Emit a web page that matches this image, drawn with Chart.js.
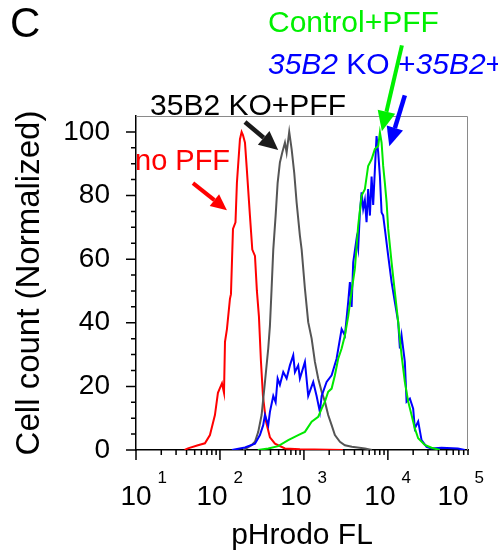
<!DOCTYPE html>
<html>
<head>
<meta charset="utf-8">
<script src="https://cdn.jsdelivr.net/npm/chart.js@4"></script>
<style>
  html, body { margin: 0; padding: 0; background: #fff; }
  #wrap { width: 498px; height: 560px; position: relative; }
</style>
</head>
<body>
<div id="wrap"><canvas id="Chart-canvas" width="498" height="560"></canvas></div>
<script>
const FONT = "'Liberation Sans', Arial, sans-serif";

// histogram values (FL value, normalized count)
const noPffFL = [38, 41.6, 54.7, 66.2, 76.0, 87.1, 94.6, 105.7, 111.7, 114.8, 121.1, 131.5, 135.2, 142.9, 153.1, 159.2, 173.0, 181.1, 187.9, 198.6, 208.0, 227.5, 242.7, 261.2, 275.4, 291.1, 307.6, 325.1, 353.2, 393.6, 451.9, 594.3, 895.4, 2911];
const noPffCount = [0, 0.5, 1.5, 2.1, 4.7, 11, 18, 21, 18, 34, 38, 47.5, 49, 69.5, 71.6, 84, 97.7, 100, 99, 96.6, 89, 73.7, 63, 61, 50, 42, 28, 17, 9, 4, 2, 0.5, 0.2, 0];

const koPffFL = [190, 238.2, 261.2, 285.8, 313.3, 343.6, 375.8, 393.6, 412.1, 431.5, 460.3, 486.4, 517.6, 552.1, 594.3, 622.3, 668.3, 714.5, 767.4, 818.5, 895.4, 939.7, 1028, 1125, 1236, 1352, 1479, 1626, 1778, 1945, 2138, 2339, 2685, 3076, 3724, 5321, 6457];
const koPffCount = [0, 1.5, 2.6, 5.7, 11, 21.4, 31.9, 39, 50.7, 63, 73.7, 84, 90.4, 93.5, 96.6, 93.5, 100, 94.5, 87, 77.8, 67.4, 63, 50.7, 40.2, 35, 27.7, 22.5, 18.3, 15.2, 11, 7.8, 4.7, 2.6, 1.5, 1, 0.5, 0];

const rescueFL = [139, 198.6, 261.2, 299.2, 327.4, 343.6, 375.8, 393.6, 431.5, 460.3, 486.4, 517.6, 567.5, 622.3, 680.8, 746.4, 781.6, 855.1, 895.4, 1028, 1125, 1291, 1416, 1549, 1626, 1862, 2138, 2449, 2812, 3076, 3367, 3528, 3698, 3864, 4238, 4426, 4641, 4865, 5082, 5321, 5571, 5821, 6109, 6397, 6683, 6998, 7328, 7674, 8035, 8414, 8790, 9204, 10090, 11070, 12110, 13270, 13900, 14550, 15920, 16700, 18280, 20010, 20940, 22950, 25180, 28910, 33110, 43550, 68080, 82600];
const rescueCount = [0, 0.8, 2, 4.7, 7.8, 11, 7.8, 12, 17, 15, 22.5, 20.5, 24.5, 22.5, 26.6, 29.8, 24.5, 26.6, 22.5, 27.7, 17, 21.4, 17, 12, 17, 21.4, 23.5, 28.7, 38, 36, 46.5, 52.8, 45, 59, 66.4, 63.3, 74.7, 81, 75.8, 78.5, 71.6, 82, 73.7, 86, 77, 88, 98.7, 93.5, 86, 74.7, 73.7, 69.5, 61, 52.8, 46.5, 40.2, 31.9, 36, 27.7, 15.2, 16.2, 13, 6.8, 9, 3.1, 1, 0.5, 0.7, 0.5, 0];

const controlFL = [283.1, 375.8, 494.3, 650.1, 855.1, 1028, 1236, 1479, 1626, 1778, 1945, 2138, 2339, 2559, 2812, 3076, 3367, 3698, 4046, 4426, 4865, 5321, 5821, 6397, 6998, 7674, 8035, 8414, 8790, 9204, 9660, 10090, 11070, 12110, 13270, 14550, 15920, 17460, 19140, 20940, 22950, 27540, 33110, 41590];
const controlCount = [0, 0.5, 1.2, 3.1, 4.7, 5.7, 8.9, 10.4, 13, 15.2, 18.3, 19.3, 23.5, 28.7, 31.9, 36, 42, 50, 57, 70.5, 80, 82, 89.3, 91.4, 94.6, 95.6, 99.8, 96.6, 89.3, 84, 77.8, 69.5, 59, 49.6, 40.2, 29.8, 21.4, 15.2, 11, 6.8, 3.7, 1.6, 0.7, 0];

const xMajor = [10, 100, 1000, 10000, 100000];
const xMinor = [20, 30, 40, 50, 60, 70, 80, 90, 200, 300, 400, 500, 600, 700, 800, 900,
                2000, 3000, 4000, 5000, 6000, 7000, 8000, 9000, 20000, 30000, 40000, 50000, 60000, 70000, 80000, 90000];
const yMajor = [0, 20, 40, 60, 80, 100];
const yMinor = [5, 10, 15, 25, 30, 35, 45, 50, 55, 65, 70, 75, 85, 90, 95];

const RED = '#ff0000', GRAY = '#555555', BLUE = '#0000ff', GREEN = '#00e800';

function pts(xs, ys) {
  return xs.map((x, i) => ({ x: x, y: ys[i] }));
}

function arrow(ctx, x1, y1, x2, y2, color, w, head, hw) {
  const a = Math.atan2(y2 - y1, x2 - x1);
  const bx = x2 - head * Math.cos(a), by = y2 - head * Math.sin(a);
  ctx.strokeStyle = color;
  ctx.lineWidth = w;
  ctx.beginPath();
  ctx.moveTo(x1, y1);
  ctx.lineTo(bx, by);
  ctx.stroke();
  ctx.fillStyle = color;
  ctx.beginPath();
  ctx.moveTo(x2, y2);
  ctx.lineTo(bx + hw / 2 * Math.sin(a), by - hw / 2 * Math.cos(a));
  ctx.lineTo(bx - hw / 2 * Math.sin(a), by + hw / 2 * Math.cos(a));
  ctx.closePath();
  ctx.fill();
}

// draws ticks, frame, power-of-ten labels and the annotations
const extras = {
  id: 'extras',
  afterDraw(chart) {
    const ctx = chart.ctx, xs = chart.scales.x, ys = chart.scales.y, area = chart.chartArea;
    const X = v => xs.getPixelForValue(v), Y = v => ys.getPixelForValue(v);
    ctx.save();

    // frame top/right
    ctx.strokeStyle = '#8a8a8a';
    ctx.lineWidth = 1;
    ctx.beginPath();
    ctx.moveTo(area.left, area.top + 0.5);
    ctx.lineTo(area.right - 0.5, area.top + 0.5);
    ctx.lineTo(area.right - 0.5, area.bottom);
    ctx.stroke();

    // tick marks
    ctx.strokeStyle = '#000';
    ctx.lineWidth = 1.5;
    ctx.beginPath();
    yMajor.forEach(v => { ctx.moveTo(area.left - 10, Y(v)); ctx.lineTo(area.left, Y(v)); });
    yMinor.forEach(v => { ctx.moveTo(area.left - 5, Y(v)); ctx.lineTo(area.left, Y(v)); });
    xMajor.forEach(v => { if (v <= xs.max) { ctx.moveTo(X(v), area.bottom); ctx.lineTo(X(v), area.bottom + 10); } });
    xMinor.forEach(v => { ctx.moveTo(X(v), area.bottom); ctx.lineTo(X(v), area.bottom + 5); });
    ctx.stroke();

    // x tick labels 10^n
    ctx.fillStyle = '#000';
    ctx.textBaseline = 'alphabetic';
    xMajor.forEach(v => {
      const exp = Math.round(Math.log10(v));
      const cx = Math.min(Math.max(X(v) - 8, area.left), area.right - 15);
      ctx.font = '28px ' + FONT;
      ctx.textAlign = 'center';
      ctx.fillText('10', cx, 505);
      const wd = ctx.measureText('10').width;
      ctx.font = '17px ' + FONT;
      ctx.textAlign = 'left';
      ctx.fillText(String(exp), cx + wd / 2 + 6, 483);
    });

    // panel letter
    ctx.font = '42px ' + FONT;
    ctx.fillStyle = '#000';
    ctx.textAlign = 'left';
    ctx.fillText('C', 10, 37);

    // annotations
    ctx.font = '29px ' + FONT;
    ctx.fillStyle = RED;
    ctx.fillText('no PFF', X(9.73), Y(88));
    ctx.font = '30px ' + FONT;
    ctx.fillStyle = '#000';
    ctx.fillText('35B2 KO+PFF', X(14.7), Y(105.2));
    ctx.fillStyle = '#00f000';
    ctx.fillText('Control+PFF', X(373), Y(131.3));

    ctx.fillStyle = BLUE;
    let tx = X(373);
    const ty = Y(118.1);
    [['35B2', true], [' KO +', false], ['35B2', true], ['+PFF', false]].forEach(p => {
      ctx.font = (p[1] ? 'italic ' : '') + '30px ' + FONT;
      ctx.fillText(p[0], tx, ty);
      tx += ctx.measureText(p[0]).width;
    });

    arrow(ctx, X(47.7), Y(83.9), X(121), Y(75.4), RED, 4, 16, 15);
    arrow(ctx, X(198.6), Y(103.1), X(494), Y(94.3), '#1a1a1a', 4.5, 19, 18);
    arrow(ctx, X(14690), Y(127.2), X(8490), Y(100.2), '#00f000', 4, 20, 18);
    arrow(ctx, X(15920), Y(111.5), X(10400), Y(95.5), BLUE, 4.5, 19, 17);

    ctx.restore();
  }
};

new Chart(document.getElementById('Chart-canvas'), {
  type: 'line',
  data: {
    datasets: [
      { label: 'Control+PFF', data: pts(controlFL, controlCount), borderColor: GREEN },
      { label: '35B2 KO+35B2+PFF', data: pts(rescueFL, rescueCount), borderColor: BLUE },
      { label: '35B2 KO+PFF', data: pts(koPffFL, koPffCount), borderColor: GRAY },
      { label: 'no PFF', data: pts(noPffFL, noPffCount), borderColor: RED }
    ]
  },
  options: {
    responsive: false,
    animation: false,
    elements: {
      point: { radius: 0 },
      line: { borderWidth: 2, tension: 0, fill: false }
    },
    layout: { padding: { top: 116, right: 30, bottom: 0, left: 0 } },
    plugins: { legend: { display: false }, tooltip: { enabled: false } },
    scales: {
      x: {
        type: 'logarithmic',
        min: 10,
        max: 90000,
        grid: { display: false, drawTicks: true, tickLength: 10 },
        border: { display: true, color: '#000', width: 1.5 },
        ticks: { display: false },
        title: { display: true, text: 'pHrodo FL', color: '#000', font: { family: FONT, size: 30 }, padding: { top: 0, bottom: 6 } },
        afterFit(s) { s.height = 110; }
      },
      y: {
        min: 0,
        max: 105,
        grid: { display: false, drawTicks: true, tickLength: 10 },
        border: { display: true, color: '#000', width: 1.5 },
        ticks: { stepSize: 20, includeBounds: false, color: '#000', font: { family: FONT, size: 28 }, padding: 16 },
        title: { display: true, text: 'Cell count (Normalized)', color: '#000', font: { family: FONT, size: 33 }, padding: { top: 10, bottom: 0 } },
        afterFit(s) { s.width = 136; }
      }
    }
  },
  plugins: [extras]
});
</script>
</body>
</html>
